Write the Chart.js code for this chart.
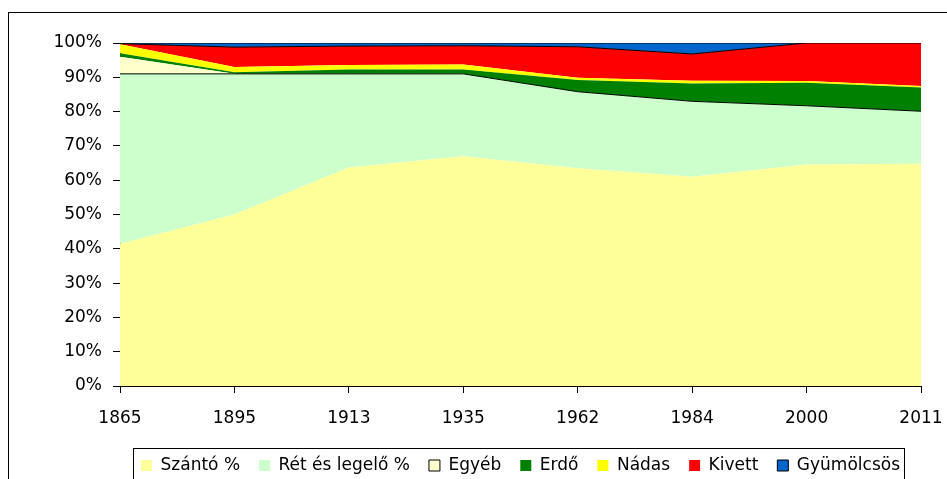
<!DOCTYPE html>
<html>
<head>
<meta charset="utf-8">
<script src="https://cdn.jsdelivr.net/npm/chart.js@4/dist/chart.umd.min.js"></script>
<style>
  html, body { margin: 0; padding: 0; background: #fff; overflow: hidden; }
  #wrap { position: relative; width: 947px; height: 484px; }
</style>
</head>
<body>
<div id="wrap"><canvas id="chart"></canvas></div>
<script>
const years = ['1865', '1895', '1913', '1935', '1962', '1984', '2000', '2011'];

// land use shares, %
const szanto     = [41.5, 50.0, 63.7, 67.0, 63.5, 61.0, 64.6, 64.8];
const retLegelo  = [49.5, 41.0, 27.3, 24.0, 22.3, 22.0, 17.1, 15.3];
const egyeb      = [5.0, 0, 0, 0, 0, 0, 0, 0];
const erdo       = [1.0, 0.5, 1.3, 1.3, 3.4, 5.2, 6.7, 6.9];
const nadas      = [2.6, 1.5, 1.3, 1.4, 0.7, 0.8, 0.5, 0.5];
const kivett     = [0.2, 5.8, 5.5, 5.5, 9.0, 7.8, 11.1, 12.5];
const gyumolcsos = [0.2, 1.2, 0.9, 0.8, 1.1, 3.2, 0, 0];

const yTicks = [0, 10, 20, 30, 40, 50, 60, 70, 80, 90, 100];

const FONT = { family: 'DejaVu Sans', size: 17 };

// series with black outline in the legend
const outlined = ['Egyéb', 'Gyümölcsös'];

const area = (label, data, color, fill, line) => ({
    label: label,
    data: data,
    backgroundColor: color,
    borderColor: line ? '#000' : color,
    borderWidth: line ? 1 : 0,
    fill: fill,
    pointRadius: 0,
    tension: 0,
});

const frame = {
    id: 'frame',
    beforeDraw(chart) {
        const ctx = chart.ctx;
        ctx.save();
        ctx.fillStyle = '#fff';
        ctx.fillRect(0, 0, chart.width, chart.height);
        ctx.strokeStyle = '#000';
        ctx.lineWidth = 1;
        ctx.strokeRect(8.5, 12.5, chart.width + 20, chart.height + 20);
        ctx.restore();
    },
    afterDraw(chart) {
        const hb = chart.legend.legendHitBoxes;
        if (!hb || !hb.length) return;
        const first = hb[0], last = hb[hb.length - 1];
        const ctx = chart.ctx;
        ctx.save();
        ctx.strokeStyle = '#000';
        ctx.lineWidth = 1;
        const x0 = Math.round(first.left - 8) + 0.5;
        const x1 = Math.round(last.left + last.width + 4) + 0.5;
        const y0 = Math.round(first.top + first.height / 2 - 18) + 0.5;
        ctx.strokeRect(x0, y0, x1 - x0, 60);
        ctx.restore();
    }
};

new Chart(document.getElementById('chart'), {
    type: 'line',
    data: {
        labels: years,
        datasets: [
            area('Szántó %', szanto, '#FFFF99', 'origin', false),
            area('Rét és legelő %', retLegelo, '#CCFFCC', '-1', true),
            area('Egyéb', egyeb, '#FFFFCC', '-1', false),
            area('Erdő', erdo, '#008000', '-1', false),
            area('Nádas', nadas, '#FFFF00', '-1', false),
            area('Kivett', kivett, '#FF0000', '-1', true),
            area('Gyümölcsös', gyumolcsos, '#0066CC', '-1', true),
        ]
    },
    options: {
        responsive: true,
        maintainAspectRatio: false,
        animation: false,
        layout: { padding: { left: 0, top: 43, right: 26, bottom: 0 } },
        scales: {
            x: {
                offset: false,
                grid: { drawOnChartArea: false, drawTicks: true, tickLength: 7, color: '#000' },
                border: { color: '#000', width: 1 },
                ticks: { color: '#000', font: FONT, padding: 15, autoSkip: false, maxRotation: 0 },
                afterFit(scale) {
                    scale.height = 52;
                    scale.paddingRight = 0;
                }
            },
            y: {
                stacked: true,
                min: 0,
                max: 100,
                afterBuildTicks(scale) { scale.ticks = yTicks.map(v => ({ value: v })); },
                grid: { drawOnChartArea: false, drawTicks: true, tickLength: 7, color: '#000' },
                border: { color: '#000', width: 1 },
                ticks: { color: '#000', font: FONT, padding: 11, callback: v => v + '%' },
                afterFit(scale) { scale.width = 120; }
            }
        },
        plugins: {
            legend: {
                position: 'bottom',
                fullSize: false,
                labels: {
                    color: '#000',
                    font: FONT,
                    boxWidth: 11,
                    boxHeight: 11,
                    padding: 19,
                    generateLabels(chart) {
                        const items = Chart.defaults.plugins.legend.labels.generateLabels(chart);
                        items.forEach(it => {
                            if (outlined.includes(it.text)) {
                                it.strokeStyle = '#000';
                                it.lineWidth = 1;
                            } else {
                                it.strokeStyle = it.fillStyle;
                                it.lineWidth = 0;
                            }
                        });
                        return items;
                    }
                }
            },
            tooltip: { enabled: false }
        }
    },
    plugins: [frame]
});
</script>
</body>
</html>
